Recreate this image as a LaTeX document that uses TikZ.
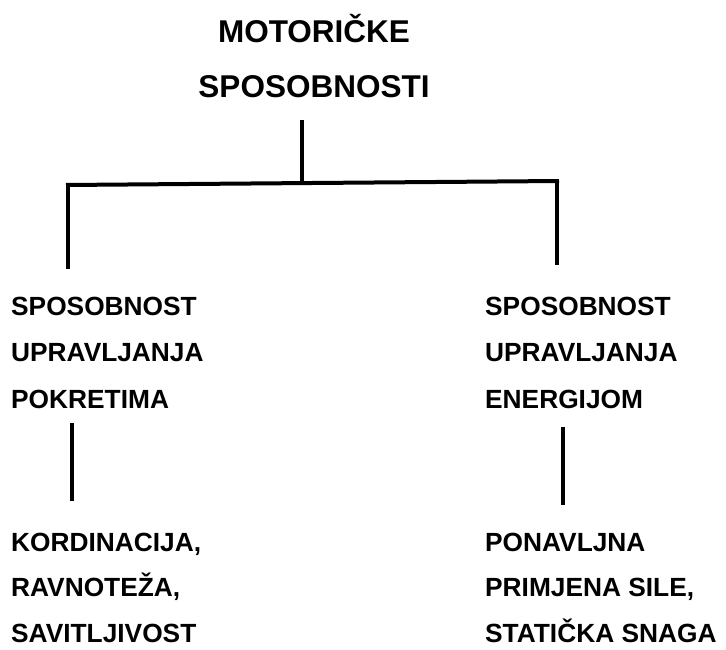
\documentclass[tikz,border=0pt]{standalone}
\usepackage{fontspec}
\setmainfont{Liberation Sans}
\begin{document}
\begin{tikzpicture}[x=1pt,y=-1pt,
  titletext/.style={font=\bfseries\fontsize{31.5}{55}\selectfont,align=center,inner sep=0pt,anchor=base},
  itemtext/.style={font=\bfseries\fontsize{26.3}{46.3}\selectfont,align=left,inner sep=0pt,anchor=base west},
  lowtext/.style={itemtext,font=\bfseries\fontsize{26.3}{45.5}\selectfont},
  bar/.style={line width=4pt},
  stem/.style={line width=3.6pt}]
\useasboundingbox (0,0) rectangle (726,650);
\node[titletext] (title) at (314,98) {MOTORIČKE\\SPOSOBNOSTI};
\node[itemtext] (l1) at (11,408) {SPOSOBNOST\\UPRAVLJANJA\\POKRETIMA};
\node[itemtext] (r1) at (485,408) {SPOSOBNOST\\UPRAVLJANJA\\ENERGIJOM};
\node[lowtext] (l2) at (11,642) {KORDINACIJA,\\RAVNOTEŽA,\\SAVITLJIVOST};
\node[lowtext] (r2) at (485,642) {PONAVLJNA\\PRIMJENA SILE,\\STATIČKA SNAGA};
\coordinate (tstem) at (302,120);
\coordinate (bm) at (302,183);
\coordinate (bl) at (66,185);
\coordinate (br) at (559,181);
\coordinate (lend) at (68,269);
\coordinate (rend) at (557,265);
\coordinate (l1s) at (72,423);
\coordinate (l1e) at (72,501);
\coordinate (r1s) at (563,427);
\coordinate (r1e) at (563,505);
\draw[stem] (tstem) -- (bm);
\draw[bar] (bl) -- (br);
\draw[stem] (bl) ++(2,0) -- (lend);
\draw[stem] (br) ++(-2,0) -- (rend);
\draw[stem] (l1s) -- (l1e);
\draw[stem] (r1s) -- (r1e);
\end{tikzpicture}
\end{document}
